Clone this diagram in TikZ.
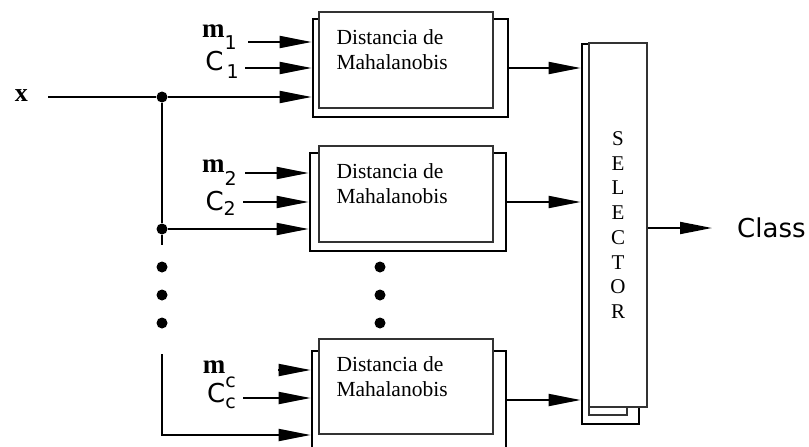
\documentclass[tikz,border=0pt]{standalone}
\usepackage{fontspec}
\setmainfont{Liberation Serif}
\newfontfamily\pixfont{DejaVu Sans}
\usetikzlibrary{arrows.meta,calc,positioning}

% input labels: bold m or pixel C, with a lowered index
\newcommand{\mlab}[2]{{\fontsize{27}{27}\selectfont\bfseries m}%
  \raisebox{#2}{\pixfont\fontsize{19}{19}\selectfont #1}}
\newcommand{\clab}[2]{{\pixfont\fontsize{26}{26}\selectfont C}%
  \raisebox{#2}{\pixfont\fontsize{19}{19}\selectfont #1}}

\begin{document}
\begin{tikzpicture}[
    x=1pt,
    y=-1pt,
    line join=miter,
    wire/.style={
      draw=black,
      line width=1.9pt
    },
    feed/.style={
      wire,
      -{Triangle[length=32pt,width=12pt]}
    },
    sheet/.style={
      draw=black,
      line width=2.8pt,
      inner sep=0pt
    },
    page/.style={
      draw=black!80,
      fill=white,
      line width=1.3pt,
      inner sep=0pt
    },
    dot/.style={
      circle,
      fill=black,
      inner sep=0pt,
      minimum size=11pt
    },
    boxtext/.style={
      align=left,
      inner sep=0pt,
      font=\fontsize{21.5}{25}\selectfont
    },
    sym/.style={
      inner sep=0pt,
      anchor=base east
    }
]
\useasboundingbox (0,0) rectangle (809,447);

% Distance blocks: thick back sheet, thin front page on top.
\foreach \i/\bx/\by/\bw/\fy/\fh in {
  1/410.5/68/195/60/96,
  2/408/202/196/194/96,
  3/409/400/194/386.5/95
} {
  \node[sheet,minimum width=\bw pt,minimum height=98pt] (b\i) at (\bx,\by) {};
  \node[page,minimum width=174pt,minimum height=\fh pt] (f\i) at (406,\fy) {};
  \node[boxtext,below right=18pt and 18pt of f\i.north west] (t\i)
    {Distancia de\\Mahalanobis};
}

% Selector: three stacked sheets.
\node[sheet,minimum width=57pt,minimum height=380pt] (sb) at (610.5,234) {};
\node[page,minimum width=38pt,minimum height=355pt] (sm) at (608,237.5) {};
\node[page,minimum width=58pt,minimum height=364pt,align=center,
  font=\fontsize{21}{24.7}\selectfont] (sel) at (618,225)
  {S\\E\\L\\E\\C\\T\\O\\R};

% Input labels.
\node[sym,font=\fontsize{26}{26}\selectfont\bfseries] (xlab) at (28,101) {x};
\node[sym] (m1) at (237,37) {\mlab{1}{-13pt}};
\node[sym] (c1) at (239,70) {\clab{\,1}{-8pt}};
\node[sym] (m2) at (237,172) {\mlab{2}{-13pt}};
\node[sym] (c2) at (236,210) {\clab{2}{-5pt}};
\node[sym] (mc) at (236,373) {\mlab{c}{-14pt}};
\node[sym] (cc) at (236,402) {\clab{c}{-6pt}};

% Feeds into the first block.
\coordinate (m1in) at (248,42);
\coordinate (c1in) at (245,68);
\coordinate (xin) at (48,97);
\node[dot] (j1) at (162,97) {};
\draw[feed] (m1in) -- (m1in -| b1.west);
\draw[feed] (c1in) -- (c1in -| b1.west);
\draw[feed] (xin) -- (j1) -- (j1 -| b1.west);

% Feeds into the second block.
\coordinate (m2in) at (245,173);
\coordinate (c2in) at (243,202);
\node[dot] (j2) at (162,229) {};
\coordinate (drop) at (162,245);
\draw[wire] (j1) -- (j2) -- (drop);
\draw[feed] (m2in) -- (m2in -| b2.west);
\draw[feed] (c2in) -- (c2in -| b2.west);
\draw[feed] (j2) -- (j2 -| b2.west);

% Ellipsis dots.
\foreach \y in {267,295,323} {
  \node[dot] (vl\y) at (162,\y) {};
  \node[dot] (vm\y) at (380,\y) {};
}

% Feeds into the last block.
\coordinate (mcin) at (278,370);
\coordinate (ccin) at (243,398);
\coordinate (rise) at (162,354);
\coordinate (x3) at (162,435);
\draw[feed] (mcin) -- (mcin -| b3.west);
\draw[feed] (ccin) -- (ccin -| b3.west);
\draw[feed] (rise) -- (x3) -- (x3 -| b3.west);

% Distances to the selector, and the class out.
\foreach \i in {1,2,3} {
  \draw[feed] (b\i.east) -- (b\i.east -| sb.west);
}
\node[anchor=west,inner sep=0pt,font=\pixfont\fontsize{26}{30}\selectfont]
  (cls) at (737,228) {Class};
\draw[feed] (sel.east |- cls) -- ([xshift=-25pt]cls.west);

\end{tikzpicture}
\end{document}
